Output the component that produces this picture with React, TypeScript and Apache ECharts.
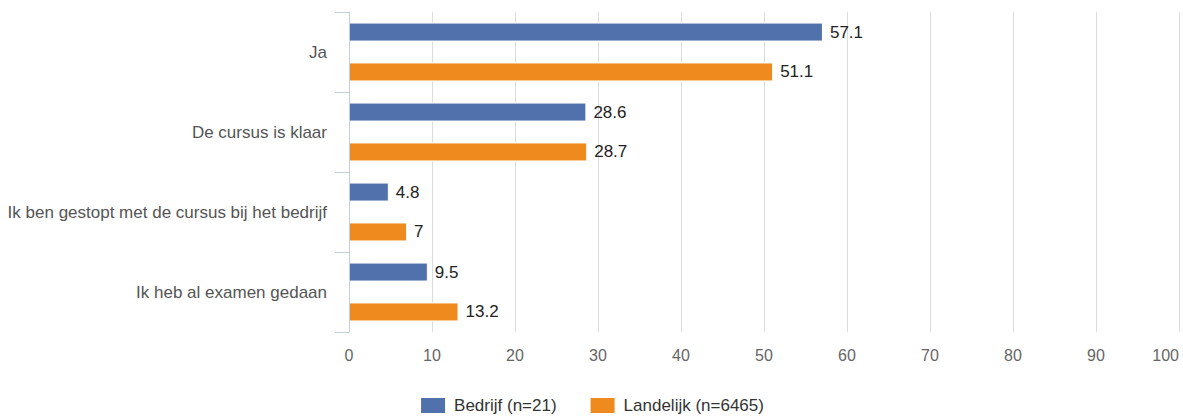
import React, { useEffect, useRef } from "react";
import * as echarts from "echarts";

const categories = [
  "Ja",
  "De cursus is klaar",
  "Ik ben gestopt met de cursus bij het bedrijf",
  "Ik heb al examen gedaan",
];
const seriesNames = ["Bedrijf (n=21)", "Landelijk (n=6465)"];
const bedrijf = [57.1, 28.6, 4.8, 9.5];
const landelijk = [51.1, 28.7, 7, 13.2];
const xTicks = [0, 10, 20, 30, 40, 50, 60, 70, 80, 90, 100];

export default function App() {
  const ref = useRef<HTMLDivElement>(null);
  useEffect(() => {
    document.body.style.margin = "0";
    const chart = echarts.init(ref.current!, null, { renderer: "svg" });
    const font = "'Liberation Sans', Arial, sans-serif";
    chart.setOption({
      animation: false,
      textStyle: { fontFamily: font },
      grid: { left: 349, right: 4, top: 12, bottom: 88, containLabel: false },
      legend: {
        top: 391,
        left: "center",
        itemWidth: 26,
        itemHeight: 17,
        itemGap: 32,
        icon: "rect",
        textStyle: { fontSize: 17, color: "#333", fontFamily: font, padding: [0, 0, 0, 3] },
        data: seriesNames,
      },
      xAxis: {
        type: "value",
        min: xTicks[0],
        max: xTicks[xTicks.length - 1],
        interval: 10,
        axisLine: { show: false },
        axisTick: { show: false },
        splitLine: { show: true, lineStyle: { color: "#dcdcdc", width: 1 } },
        axisLabel: {
          fontSize: 16,
          color: "#666",
          margin: 15,
          fontFamily: font,
          alignMaxLabel: "right",
        },
      },
      yAxis: {
        type: "category",
        inverse: true,
        data: categories,
        z: 5,
        axisLine: { show: true, lineStyle: { color: "#c0d0e0", width: 1 } },
        axisTick: { show: true, length: 14, lineStyle: { color: "#c0d0e0" } },
        axisLabel: { fontSize: 17, color: "#555", margin: 22, fontFamily: font },
      },
      series: [
        {
          name: seriesNames[0],
          type: "bar",
          data: bedrijf,
          barWidth: 19,
          barGap: "110%",
          itemStyle: { color: "#5071ab", borderColor: "#ffffff", borderWidth: 1 },
          label: {
            show: true,
            position: "right",
            distance: 7,
            fontSize: 17,
            color: "#222",
            fontFamily: font,
          },
        },
        {
          name: seriesNames[1],
          type: "bar",
          data: landelijk,
          barWidth: 19,
          barGap: "110%",
          itemStyle: { color: "#ef8a1e", borderColor: "#ffffff", borderWidth: 1 },
          label: {
            show: true,
            position: "right",
            distance: 7,
            fontSize: 17,
            color: "#222",
            fontFamily: font,
          },
        },
      ],
    });
    return () => chart.dispose();
  }, []);
  return <div ref={ref} style={{ width: 1183, height: 420 }} />;
}
